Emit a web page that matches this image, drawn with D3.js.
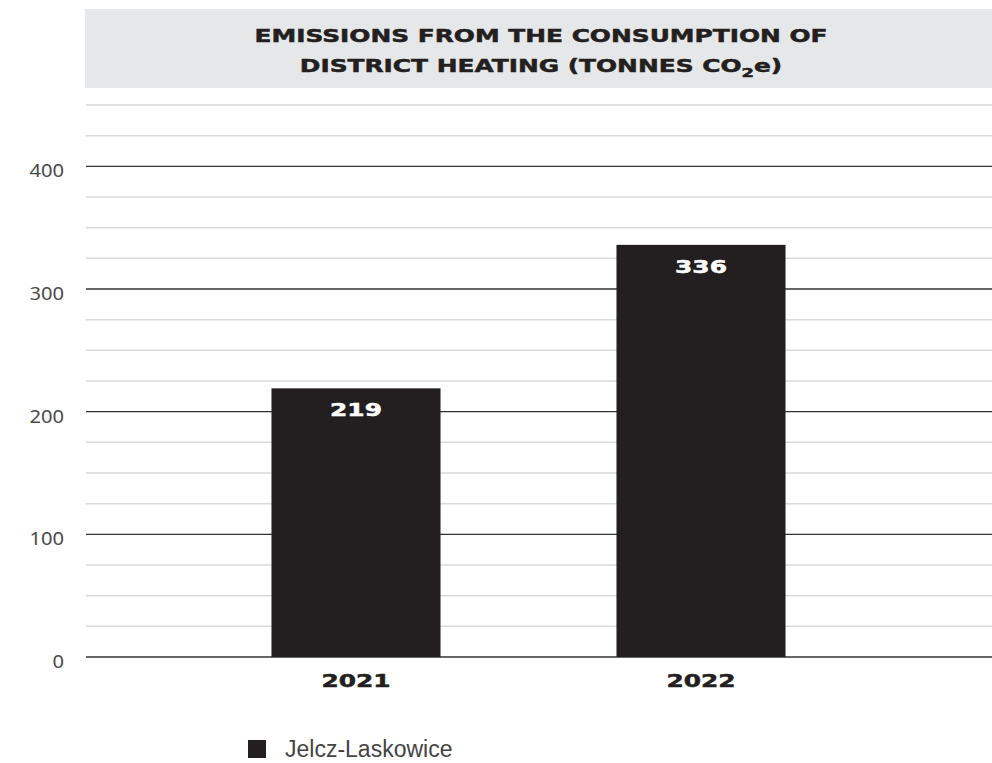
<!DOCTYPE html>
<html>
<head>
<meta charset="utf-8">
<script src="https://cdn.jsdelivr.net/npm/d3@7"></script>
<style>
  body { margin: 0; background: #fff; }
  svg { display: block; }
</style>
</head>
<body>
<div id="chart"></div>
<script>
// chart data
const years = ['2021', '2022'];
const emissions = [219, 336];
const seriesName = 'Jelcz-Laskowice';
const titleLines = ['EMISSIONS FROM THE CONSUMPTION OF', 'DISTRICT HEATING (TONNES CO'];
const yTicks = [0, 100, 200, 300, 400];

const W = 992, H = 763;
const margin = { top: 105, right: 0, bottom: 106, left: 86 };
const wideFont = '"DejaVu Sans", sans-serif';
const wide = 1.38; // horizontal stretch to mimic the extended typeface

const svg = d3.select('#chart').append('svg')
    .attr('width', W)
    .attr('height', H);

// scales
const y = d3.scaleLinear()
    .domain([0, 450])
    .range([H - margin.bottom, margin.top]);

const x = d3.scaleBand()
    .domain(years)
    .range([183.5, 873.5])
    .paddingInner(0.51)
    .paddingOuter(0.255);

// heavy, wide text helper
function heavy(sel, color) {
    sel.attr('text-anchor', 'middle')
        .style('font-family', wideFont)
        .style('font-weight', 'bold')
        .style('font-size', '18px')
        .attr('fill', color)
        .attr('stroke', color)
        .attr('stroke-width', 0.5);
}

// title band
svg.append('rect')
    .attr('x', margin.left - 1)
    .attr('y', 9)
    .attr('width', W - margin.left + 1)
    .attr('height', 79)
    .attr('fill', '#e6e7e8');

const cx = (margin.left + W) / 2 + 2;
svg.append('text')
    .attr('transform', `translate(${cx},42) scale(${wide},1)`)
    .call(heavy, '#231f20')
    .text(titleLines[0]);

const t2 = svg.append('text')
    .attr('transform', `translate(${cx},72) scale(${wide},1)`)
    .call(heavy, '#231f20');
t2.append('tspan').text(titleLines[1]);
t2.append('tspan').attr('dy', 5).style('font-size', '13px').text('2');
t2.append('tspan').attr('dy', -5).text('e)');

// gridlines: light every 25, dark every 100
svg.append('g').selectAll('line')
    .data(d3.range(0, 451, 25))
    .join('line')
    .attr('x1', margin.left)
    .attr('x2', W)
    .attr('y1', d => y(d))
    .attr('y2', d => y(d))
    .attr('stroke', d => d % 100 === 0 ? '#333' : '#d9d9d9')
    .attr('stroke-width', d => d % 100 === 0 ? 1.3 : 1.5);

// y axis labels
const yAxis = svg.append('g')
    .attr('transform', `translate(${margin.left - 22},0)`)
    .call(d3.axisLeft(y).tickValues(yTicks).tickSize(0).tickPadding(0));
yAxis.select('.domain').remove();
yAxis.selectAll('.tick text')
    .attr('x', 0)
    .attr('y', -2)
    .attr('dy', '0.7em')
    .attr('transform', 'scale(1.12,1)')
    .style('font-family', '"Noto Sans", sans-serif')
    .style('font-size', '18px')
    .attr('fill', '#4a4a4a');

// bars
svg.append('g').selectAll('rect')
    .data(emissions)
    .join('rect')
    .attr('x', (d, i) => x(years[i]))
    .attr('y', d => y(d))
    .attr('width', x.bandwidth())
    .attr('height', d => y(0) - y(d))
    .attr('fill', '#231f20');

// value labels inside bars
svg.append('g').selectAll('text')
    .data(emissions)
    .join('text')
    .attr('transform', (d, i) => `translate(${x(years[i]) + x.bandwidth() / 2},${y(d) + 28}) scale(${wide},1)`)
    .call(heavy, '#fff')
    .text(d => d);

// x axis labels
svg.append('g').selectAll('text')
    .data(years)
    .join('text')
    .attr('transform', d => `translate(${x(d) + x.bandwidth() / 2},${y(0) + 30}) scale(${wide},1)`)
    .call(heavy, '#231f20')
    .text(d => d);

// legend
const legend = svg.append('g').attr('transform', 'translate(248,740)');
legend.append('rect')
    .attr('width', 18)
    .attr('height', 18)
    .attr('fill', '#231f20');
legend.append('text')
    .attr('x', 37)
    .attr('y', 17)
    .style('font-family', '"Liberation Sans", Arial, sans-serif')
    .style('font-size', '23px')
    .attr('fill', '#444')
    .text(seriesName);
</script>
</body>
</html>
